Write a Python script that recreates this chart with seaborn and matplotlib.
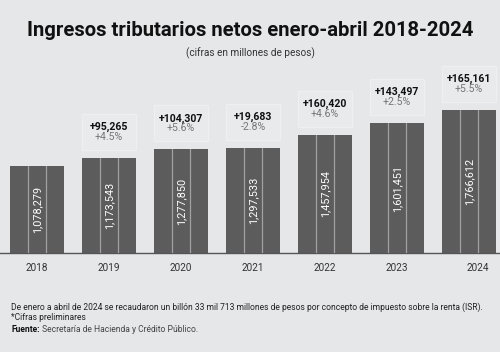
import matplotlib
matplotlib.use("Agg")
import matplotlib.pyplot as plt
import matplotlib.transforms as mtransforms
from matplotlib.patches import Rectangle
import seaborn as sns
import pandas as pd

years = ["2018", "2019", "2020", "2021", "2022", "2023", "2024"]
values = [1078279, 1173543, 1277850, 1297533, 1457954, 1601451, 1766612]
diffs = [None, "+95,265", "+104,307", "+19,683", "+160,420", "+143,497", "+165,161"]
pcts = [None, "+4.5%", "+5.6%", "-2.8%", "+4.6%", "+2.5%", "+5.5%"]
value_labels = ["1,078,279", "1,173,543", "1,277,850", "1,297,533", "1,457,954", "1,601,451", "1,766,612"]

title = "Ingresos tributarios netos enero-abril 2018-2024"
subtitle = "(cifras en millones de pesos)"
note1 = "De enero a abril de 2024 se recaudaron un billón 33 mil 713 millones de pesos por concepto de impuesto sobre la renta (ISR)."
note2 = "*Cifras preliminares"
source_label = "Fuente:"
source_text = " Secretaría de Hacienda y Crédito Público."

BG = "#e6e7e9"
BAR = "#5c5c5d"
FONT = "Roboto"

sns.set_theme(style="white")
plt.rcParams["font.family"] = [FONT, "DejaVu Sans"]

W, H = 500, 352
fig = plt.figure(figsize=(W / 100, H / 100), dpi=100, facecolor=BG)

base_px = 253
ax = fig.add_axes([0, (H - base_px) / H, 1, base_px / H])
ax.set_facecolor(BG)

df = pd.DataFrame({"year": years, "value": values})
sns.barplot(data=df, x="year", y="value", color=BAR, saturation=1, width=0.75, ax=ax,
            zorder=2, linewidth=0, edgecolor=BAR)

scale = 8.1e-5  # px per unit
ymax = base_px / scale
ax.set_ylim(0, ymax)
ax.set_xlim(-37 / 72, (500 - 37) / 72)
px = ymax / base_px  # data units per pixel

for sp in ["top", "right", "left"]:
    ax.spines[sp].set_visible(False)
ax.spines["bottom"].set_color("#555555")
ax.spines["bottom"].set_linewidth(1.0)
ax.set_yticks([])
ax.set_xlabel("")
ax.set_ylabel("")
ax.tick_params(axis="x", length=0, pad=7, labelsize=7.2, labelcolor="#333333")

for i, patch in enumerate(ax.patches):
    x0 = patch.get_x()
    w = patch.get_width()
    h = patch.get_height()
    for k in (1, 2):
        xx = x0 + w * k / 3
        ax.plot([xx, xx], [0, h], color="#a2a2a4", lw=0.9, zorder=3)
    ax.text(x0 + w / 2, h / 2, value_labels[i], rotation=90, ha="center", va="center",
            color="white", fontsize=7.8, zorder=4)
    if diffs[i] is not None:
        box_bottom = h + 8 * px
        box_h = 36 * px
        ax.add_patch(Rectangle((x0, box_bottom), w, box_h, facecolor="#e9eaec",
                               edgecolor="#eeeff0", lw=1.0, zorder=1))
        ax.text(x0 + w / 2, h + 31 * px, diffs[i], ha="center", va="center",
                fontsize=7.6, fontweight="bold", color="#111111", zorder=4)
        ax.text(x0 + w / 2, h + 21 * px, pcts[i], ha="center", va="center",
                fontsize=7.6, color="#777777", zorder=4)

labs = ax.get_xticklabels()
labs[-1].set_transform(labs[-1].get_transform() + mtransforms.ScaledTranslation(9 / 100, 0, fig.dpi_scale_trans))

fig.text(0.5, 1 - 30 / H, title, ha="center", va="center", fontsize=14.6,
         fontweight="bold", color="#111111")
fig.text(0.5, 1 - 53 / H, subtitle, ha="center", va="center", fontsize=7.2, color="#333333")

fs = 6.15
fig.text(11 / W, 1 - 307 / H, note1, ha="left", va="center", fontsize=fs, color="#222222")
fig.text(11 / W, 1 - 318 / H, note2, ha="left", va="center", fontsize=fs, color="#222222")
t = fig.text(11 / W, 1 - 329 / H, source_label, ha="left", va="center", fontsize=fs,
             color="#111111", fontweight="bold")
fig.canvas.draw()
bb = t.get_window_extent()
fig.text(bb.x1 / W, 1 - 329 / H, source_text, ha="left", va="center", fontsize=fs, color="#444444")

fig.savefig("out.png", dpi=100, facecolor=BG)
